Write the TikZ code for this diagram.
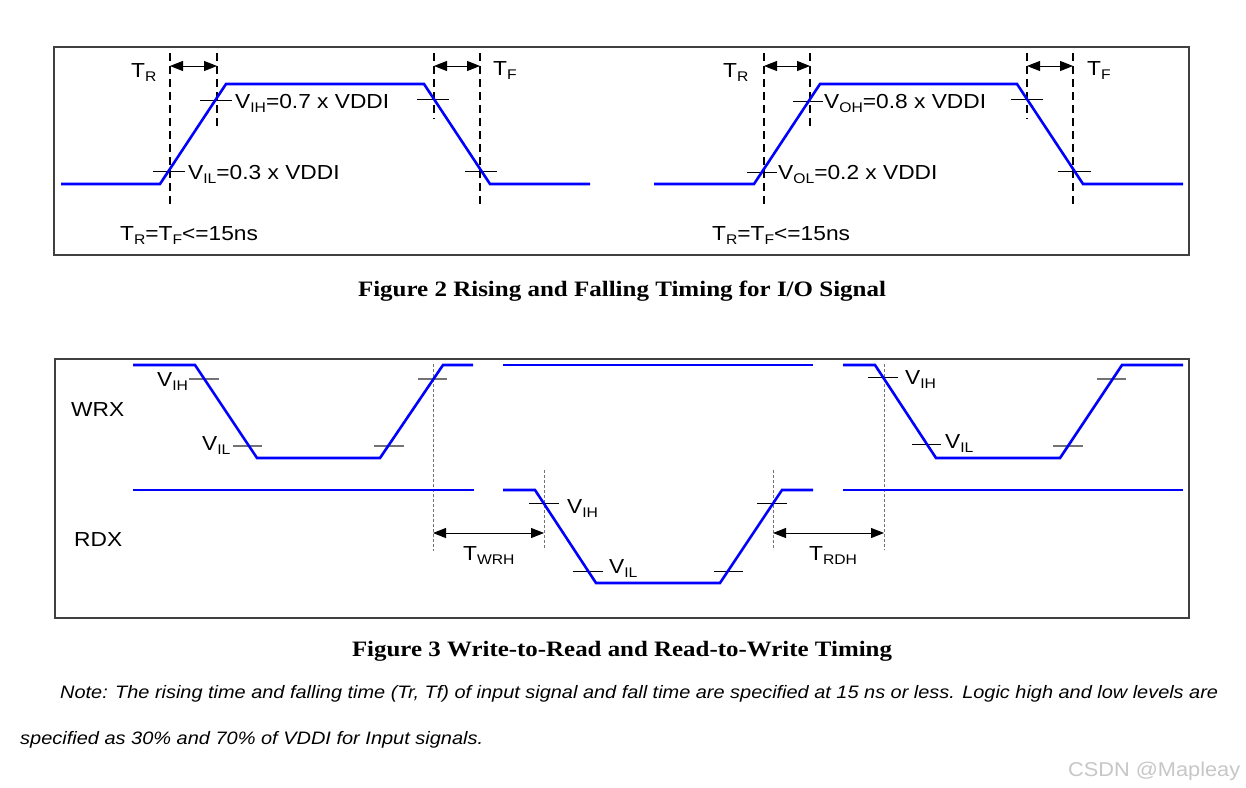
\documentclass[tikz,border=0pt]{standalone}
\usepackage{fontspec}
\usepackage{graphicx}
\setmainfont{Liberation Sans}
\newfontfamily\lab[FakeStretch=1.12]{Liberation Sans}
\newfontfamily\capfont{Liberation Serif}
\newfontfamily\notefont{Liberation Sans}
\usetikzlibrary{arrows.meta}
\definecolor{wblue}{RGB}{0,0,255}
\newcommand\lsub[1]{\raisebox{-4.5pt}{\fontsize{14}{14}\selectfont #1}}
\tikzset{
 wave/.style={draw=wblue, line width=2.6pt, line join=miter},
 guide/.style={draw=black, line width=1.2pt, dash pattern=on 8pt off 5pt},
 guideg/.style={draw=black!55, line width=1pt, dash pattern=on 3pt off 2pt},
 tickb/.style={draw=black, line width=1pt},
 tickg/.style={draw=black!55, line width=1.3pt},
 dim/.style={draw=black, line width=1pt, {Triangle[length=13pt,width=10pt]}-{Triangle[length=13pt,width=10pt]}},
 lbl/.style={inner sep=0pt, anchor=base west, font=\lab\fontsize{20.3}{21}\selectfont},
 frame/.style={draw=black!75, line width=1.3pt},
 figcap/.style={inner sep=0pt, anchor=base, font=\capfont\bfseries\fontsize{22}{24}\selectfont},
 notetext/.style={inner sep=0pt, anchor=base west, font=\notefont\itshape\fontsize{18}{20}\selectfont}
}
\begin{document}
\begin{tikzpicture}[x=1pt,y=-1pt]
\useasboundingbox (0,0) rectangle (1246,787);
\fill[white] (0,0) rectangle (1246,787);
% frames
\draw[frame] (54,47) rectangle (1189,255);
\draw[frame] (55,359) rectangle (1189,618);

% ---------------- top-left panel
\draw[guide] (170,53) -- (170,205);
\draw[guide] (217,53) -- (217,128);
\draw[guide] (434,53) -- (434,119);
\draw[guide] (480,53) -- (480,205);
\draw[tickb] (200,100) -- (232,100);
\draw[tickb] (153,171) -- (185,171);
\draw[tickb] (417,99) -- (449,99);
\draw[tickb] (465,171) -- (497,171);
\draw[wave] (61,184) -- (160,184) -- (226,84) -- (424,84) -- (490,184) -- (590,184);
\coordinate (trA) at (170,66); \coordinate (trB) at (217,66);
\coordinate (tfA) at (434,66); \coordinate (tfB) at (480,66);
\draw[dim] (trA) -- (trB);
\draw[dim] (tfA) -- (tfB);
\node[lbl] (tr1) at (131,77) {T\lsub{R}};
\node[lbl] (tf1) at (493,75) {T\lsub{F}};
\node[lbl] (vih1) at (235,108) {V\lsub{IH}=0.7 x VDDI};
\node[lbl] (vil1) at (188,179) {V\lsub{IL}=0.3 x VDDI};
\node[lbl] (eq1) at (120,240) {T\lsub{R}=T\lsub{F}<=15ns};

% ---------------- top-right panel
\draw[guide] (764,53) -- (764,205);
\draw[guide] (810,53) -- (810,128);
\draw[guide] (1027,53) -- (1027,119);
\draw[guide] (1073,53) -- (1073,205);
\draw[tickb] (793,101) -- (823,101);
\draw[tickb] (747,172) -- (777,172);
\draw[tickb] (1011,99) -- (1043,99);
\draw[tickb] (1058,171) -- (1091,171);
\draw[wave] (654,184) -- (754,184) -- (820,84) -- (1017,84) -- (1083,184) -- (1183,184);
\coordinate (trC) at (764,66); \coordinate (trD) at (810,66);
\coordinate (tfC) at (1027,66); \coordinate (tfD) at (1073,66);
\draw[dim] (trC) -- (trD);
\draw[dim] (tfC) -- (tfD);
\node[lbl] (tr2) at (723,77) {T\lsub{R}};
\node[lbl] (tf2) at (1087,75) {T\lsub{F}};
\node[lbl] (voh) at (824,108) {V\lsub{OH}=0.8 x VDDI};
\node[lbl] (vol) at (778,179) {V\lsub{OL}=0.2 x VDDI};
\node[lbl] (eq2) at (712,240) {T\lsub{R}=T\lsub{F}<=15ns};

\node[figcap] (cap1) at (622,296) {\resizebox{528pt}{\height}{Figure 2 Rising and Falling Timing for I/O Signal}};

% ---------------- bottom panel
\draw[guideg] (433,364) -- (433,551);
\draw[guideg] (544,470) -- (544,550);
\draw[guideg] (773,470) -- (773,550);
\draw[guideg] (884,364) -- (884,550);
% ticks
\draw[tickg] (189,379) -- (219,379);
\draw[tickg] (233,446) -- (262,446);
\draw[tickg] (374,446) -- (404,446);
\draw[tickg] (418,379) -- (447,379);
\draw[tickb] (529,503) -- (559,503);
\draw[tickb] (573,571) -- (603,571);
\draw[tickb] (714,571) -- (743,571);
\draw[tickb] (757,503) -- (787,503);
\draw[tickb] (868,377) -- (898,377);
\draw[tickb] (912,444) -- (941,444);
\draw[tickg] (1053,446) -- (1083,446);
\draw[tickg] (1097,379) -- (1126,379);
% WRX
\draw[wave] (133,365) -- (195,365) -- (257,458) -- (380,458) -- (443,365) -- (473,365);
\draw[wave] (503,365) -- (813,365);
\draw[wave] (843,365) -- (875,365) -- (936,458) -- (1060,458) -- (1122,365) -- (1183,365);
% RDX
\draw[wave] (133,490) -- (474,490);
\draw[wave] (503,490) -- (535,490) -- (596,583) -- (720,583) -- (782,490) -- (813,490);
\draw[wave] (843,490) -- (1183,490);
% dimension arrows
\coordinate (wrA) at (433,533); \coordinate (wrB) at (544,533);
\coordinate (rdA) at (773,533); \coordinate (rdB) at (884,533);
\draw[dim] (wrA) -- (wrB);
\draw[dim] (rdA) -- (rdB);
% labels
\node[lbl] (wrx) at (71,416) {WRX};
\node[lbl] (rdx) at (74,546) {RDX};
\node[lbl] (bvih1) at (157,386) {V\lsub{IH}};
\node[lbl] (bvil1) at (202,450) {V\lsub{IL}};
\node[lbl] (twrh) at (463,560) {T\lsub{WRH}};
\node[lbl] (bvih2) at (567,513) {V\lsub{IH}};
\node[lbl] (bvil2) at (609,573) {V\lsub{IL}};
\node[lbl] (trdh) at (809,560) {T\lsub{RDH}};
\node[lbl] (bvih3) at (905,384) {V\lsub{IH}};
\node[lbl] (bvil3) at (945,448) {V\lsub{IL}};

\node[figcap] (cap2) at (622,656) {\resizebox{540pt}{\height}{Figure 3 Write-to-Read and Read-to-Write Timing}};

% note
\node[notetext] (note1) at (60,698) {\resizebox{1158pt}{\height}{Note: The rising time and falling time (Tr, Tf) of input signal and fall time are specified at 15 ns or less. Logic high and low levels are}};
\node[notetext] (note2) at (20,744) {\resizebox{463pt}{\height}{specified as 30\% and 70\% of VDDI for Input signals.}};
\node[inner sep=0pt, anchor=base west, text=black!22, font=\notefont\fontsize{20}{22}\selectfont] (wm) at (1068,776) {\resizebox{172pt}{\height}{CSDN @Mapleay}};
\end{tikzpicture}
\end{document}
